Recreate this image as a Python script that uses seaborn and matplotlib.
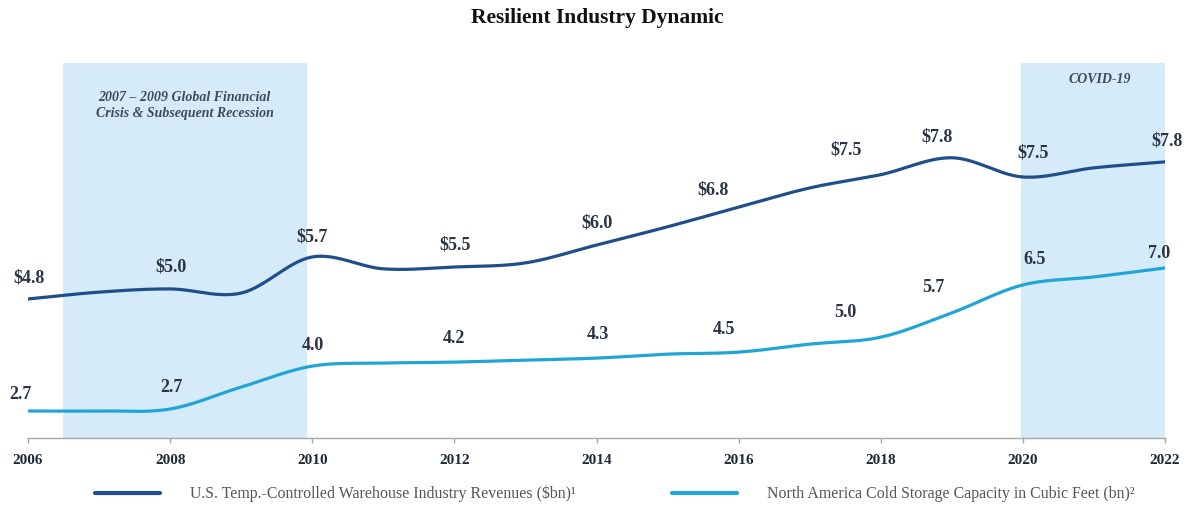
import numpy as np
import pandas as pd
import seaborn as sns
import matplotlib.pyplot as plt
from matplotlib.lines import Line2D

# data
years = list(range(2006, 2023))
revenues = [4.80, 4.95, 5.02, 4.93, 5.72, 5.46, 5.50, 5.59, 5.98, 6.38,
            6.81, 7.23, 7.52, 7.89, 7.47, 7.67, 7.80]
capacity = [2.70, 2.70, 2.76, 3.42, 4.05, 4.14, 4.17, 4.23, 4.29, 4.41,
            4.47, 4.71, 4.92, 5.65, 6.49, 6.73, 7.00]

rev_label_years = [2006, 2008, 2010, 2012, 2014, 2016, 2018, 2019, 2020, 2022]
rev_label_text = ['$4.8', '$5.0', '$5.7', '$5.5', '$6.0', '$6.8', '$7.5', '$7.8', '$7.5', '$7.8']
cap_label_years = [2006, 2008, 2010, 2012, 2014, 2016, 2018, 2019, 2020, 2022]
cap_label_text = ['2.7', '2.7', '4.0', '4.2', '4.3', '4.5', '5.0', '5.7', '6.5', '7.0']

# label offsets in pixels (dx, dy) from the point
rev_offsets = [(1, 21), (1, 22), (0, 20), (1, 22), (1, 22), (-26, 17), (-35, 25), (-15, 21), (10, 24), (2, 21)]
cap_offsets = [(-8, 16), (1, 21), (1, 21), (0, 24), (1, 24), (-15, 23), (-35, 25), (-18, 25), (12, 25), (-6, 14)]

periods = [(2006.49, 2009.92, '2007 \u2013 2009 Global Financial\nCrisis & Subsequent Recession'),
           (2019.97, 2022.0, 'COVID-19')]

series_names = ['U.S. Temp.-Controlled Warehouse Industry Revenues ($bn)\u00b9',
                'North America Cold Storage Capacity in Cubic Feet (bn)\u00b2']

DARK = '#1e4f8b'
CYAN = '#1fa6d6'
SHADE = '#d5ebf9'
TXT = '#2b3445'


def smooth(x, y, n=40):
    # Catmull-Rom style smoothing, like a spreadsheet "smoothed line"
    x = np.asarray(x, float)
    y = np.asarray(y, float)
    m = np.gradient(y, x)
    xs, ys = [], []
    t = np.linspace(0, 1, n, endpoint=False)
    h00 = 2 * t**3 - 3 * t**2 + 1
    h10 = t**3 - 2 * t**2 + t
    h01 = -2 * t**3 + 3 * t**2
    h11 = t**3 - t**2
    for i in range(len(x) - 1):
        h = x[i + 1] - x[i]
        xs.append(x[i] + t * h)
        ys.append(h00 * y[i] + h10 * h * m[i] + h01 * y[i + 1] + h11 * h * m[i + 1])
    xs.append([x[-1]])
    ys.append([y[-1]])
    return np.concatenate(xs), np.concatenate(ys)


sns.set_theme(style='white')
plt.rcParams['font.family'] = ['Liberation Serif', 'DejaVu Serif']

fig = plt.figure(figsize=(11.95, 5.09), dpi=100)
ax = fig.add_axes([28 / 1195, 71 / 509, 1137 / 1195, 375 / 509])
ax2 = ax.twinx()

for x0, x1, _ in periods:
    ax.axvspan(x0, x1, color=SHADE, lw=0, zorder=0)

sx, sy = smooth(years, revenues)
df_rev = pd.DataFrame({'year': sx, 'value': sy})
sns.lineplot(data=df_rev, x='year', y='value', ax=ax, color=DARK, lw=2.3,
             sort=False, legend=False, zorder=3)
sx, sy = smooth(years, capacity)
df_cap = pd.DataFrame({'year': sx, 'value': sy})
sns.lineplot(data=df_cap, x='year', y='value', ax=ax2, color=CYAN, lw=2.3,
             sort=False, legend=False, zorder=3)

ax.set_xlim(2006, 2022)
ax.set_ylim(1.758, 9.964)
ax2.set_ylim(1.888, 13.163)

px = 0.72  # pixels -> points
for yr, txt, (dx, dy) in zip(rev_label_years, rev_label_text, rev_offsets):
    v = revenues[years.index(yr)]
    ax.annotate(txt, (yr, v), xytext=(dx * px, dy * px), textcoords='offset points',
                ha='center', va='center', fontsize=13, fontweight='bold', color=TXT,
                annotation_clip=False)
for yr, txt, (dx, dy) in zip(cap_label_years, cap_label_text, cap_offsets):
    v = capacity[years.index(yr)]
    ax2.annotate(txt, (yr, v), xytext=(dx * px, dy * px), textcoords='offset points',
                 ha='center', va='center', fontsize=13, fontweight='bold', color=TXT,
                 annotation_clip=False)

# period captions
ax.text((periods[0][0] + periods[0][1]) / 2, 0.887, periods[0][2],
        transform=ax.get_xaxis_transform(), ha='center', va='center',
        fontsize=10, fontweight='bold', fontstyle='italic', color='#3d4b5c',
        linespacing=1.3)
ax.text((periods[1][0] + periods[1][1]) / 2 + 0.1, 0.955, periods[1][2],
        transform=ax.get_xaxis_transform(), ha='center', va='center',
        fontsize=10, fontweight='bold', fontstyle='italic', color='#3d4b5c')

# axes styling
for a in (ax, ax2):
    for side in ('top', 'right', 'left'):
        a.spines[side].set_visible(False)
    a.set_ylabel('')
    a.set_xlabel('')
    a.set_yticks([])
    a.grid(False)
ax2.spines['bottom'].set_visible(False)
ax.spines['bottom'].set_color('#a6a6a6')
ax.spines['bottom'].set_linewidth(1.0)
ax.set_xticks(range(2006, 2023, 2))
ax.set_xticklabels([str(y) for y in range(2006, 2023, 2)], fontsize=11,
                   fontweight='bold', color='#1f2a38')
ax.tick_params(axis='x', direction='out', length=3.5, width=1, color='#a6a6a6',
               bottom=True, pad=8)

fig.suptitle('Resilient Industry Dynamic', x=0.5, y=1 - 18 / 509, va='center',
             fontsize=15.5, fontweight='bold', color='#111111')

handles = [Line2D([], [], color=DARK, lw=3), Line2D([], [], color=CYAN, lw=3)]
fig.legend(handles, series_names, loc='center left',
           bbox_to_anchor=(95 / 1195, 1 - 494 / 509), ncol=2, frameon=False,
           fontsize=11.4, handlelength=4.1, handletextpad=1.9, columnspacing=6.1,
           borderpad=0, borderaxespad=0, labelcolor='#555555')

fig.savefig('out.png', dpi=100)
